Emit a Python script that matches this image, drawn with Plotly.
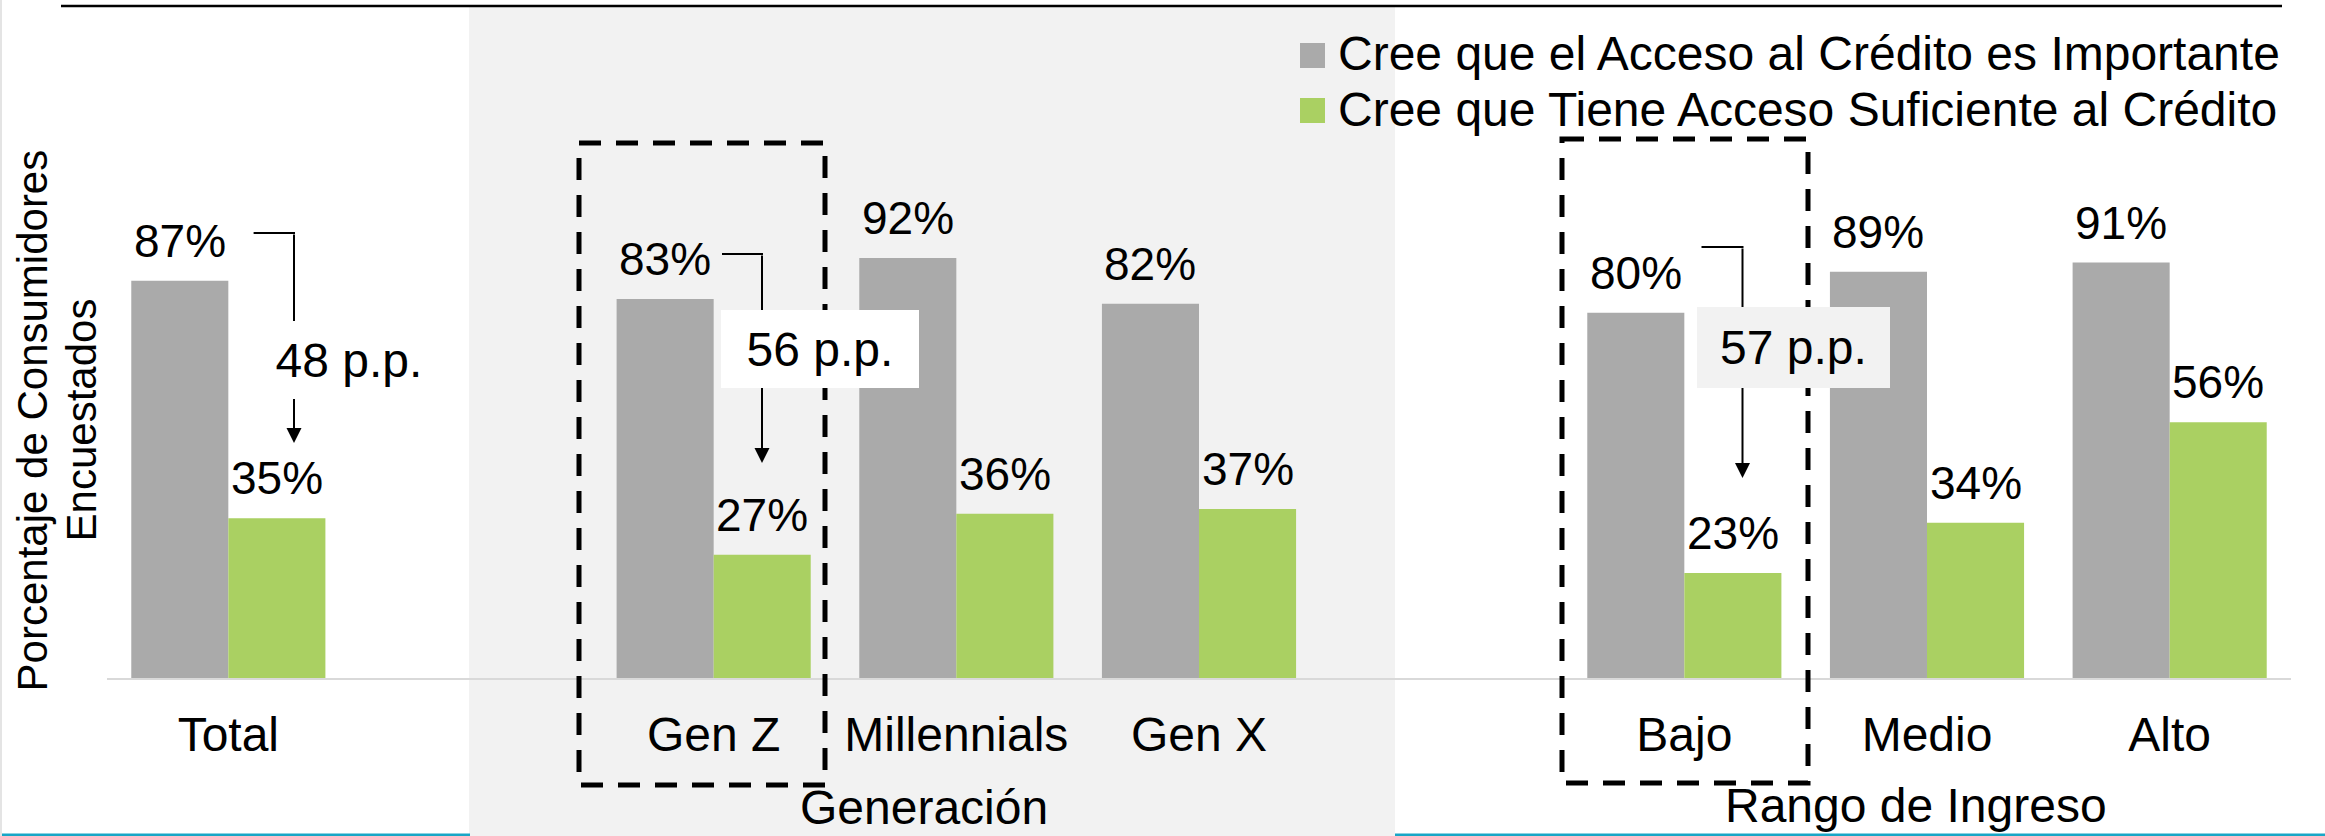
import plotly.graph_objects as go

# ---------------- data ----------------
categories = ["Total", "Gen Z", "Millennials", "Gen X", "Bajo", "Medio", "Alto"]
positions = [0, 2, 3, 4, 6, 7, 8]
importante = [87, 83, 92, 82, 80, 89, 91]
suficiente = [35, 27, 36, 37, 23, 34, 56]
series_names = ["Cree que el Acceso al Crédito es Importante",
                "Cree que Tiene Acceso Suficiente al Crédito"]
group_labels = ["Generación", "Rango de Ingreso"]
gap_labels = ["48 p.p.", "56 p.p.", "57 p.p."]
y_title_lines = ["Porcentaje de Consumidores", "Encuestados"]

# ---------------- style / layout ----------------
W, H = 2325, 836
PL, PR, PT, PB = 107, 34, 6, 158
PW, PH = W - PL - PR, H - PT - PB
PX_PER_PCT = 4.565
YMAX = PH / PX_PER_PCT
BARGAP = 0.2
HALF = (1 - BARGAP) / 4  # centre offset of each bar in a pair

GRAY = "#AAAAAA"
GREEN = "#AAD062"
SHADE = "#F2F2F2"
TEAL = "#18A6C6"
FONT = "Liberation Sans, Arial, sans-serif"
FS = 48


def px(xp):
    return (xp - PL) / PW


def py(yp):
    return (PT + PH - yp) / PH


fig = go.Figure()
fig.add_trace(go.Bar(x=positions, y=importante, name=series_names[0],
                     marker=dict(color=GRAY, line=dict(width=0)), showlegend=False))
fig.add_trace(go.Bar(x=positions, y=suficiente, name=series_names[1],
                     marker=dict(color=GREEN, line=dict(width=0)), showlegend=False))

shapes = []
annotations = []

# shaded "Generación" background
shapes.append(dict(type="rect", xref="paper", yref="paper", layer="below",
                   x0=px(469), x1=px(1395), y0=py(7), y1=py(837),
                   fillcolor=SHADE, line=dict(width=0)))
# bottom teal lines
for a, b in [(0, 470), (1395, W)]:
    shapes.append(dict(type="line", xref="paper", yref="paper", layer="below",
                       x0=px(a), x1=px(b), y0=py(835), y1=py(835),
                       line=dict(color=TEAL, width=3)))
# faint left edge
shapes.append(dict(type="line", xref="paper", yref="paper", layer="below",
                   x0=px(1), x1=px(1), y0=py(0), y1=py(H),
                   line=dict(color="#E4E4E4", width=2)))
# top black rule
shapes.append(dict(type="line", xref="paper", yref="paper",
                   x0=px(61), x1=px(2282), y0=py(6), y1=py(6),
                   line=dict(color="black", width=2.5)))

# legend (manual, to match the large swatches)
leg_colors = [GRAY, GREEN]
leg_rows = [55.5, 110.5]
for name, col, yc in zip(series_names, leg_colors, leg_rows):
    shapes.append(dict(type="rect", xref="paper", yref="paper",
                       x0=px(1300), x1=px(1325), y0=py(yc - 12.5), y1=py(yc + 12.5),
                       fillcolor=col, line=dict(width=0)))
    annotations.append(dict(text=name, xref="paper", yref="paper",
                            x=px(1336), y=py(yc - 1.5), xanchor="left", yanchor="middle",
                            showarrow=False, font=dict(size=FS, color="black", family=FONT)))

# data labels
for p, a, b in zip(positions, importante, suficiente):
    for xv, v in [(p - HALF, a), (p + HALF, b)]:
        annotations.append(dict(text=f"{v}%", x=xv, y=v, xref="x", yref="y",
                                xanchor="center", yanchor="bottom", yshift=12,
                                showarrow=False,
                                font=dict(size=46, color="black", family=FONT)))

# dashed highlight boxes
for (x0, x1, y0, y1) in [(579, 825, 143, 785), (1562, 1808, 139, 783)]:
    shapes.append(dict(type="rect", xref="paper", yref="paper",
                       x0=px(x0), x1=px(x1), y0=py(y0), y1=py(y1),
                       line=dict(color="black", width=5, dash="22px,15px"),
                       fillcolor="rgba(0,0,0,0)"))

# gap brackets: (h_start, v_x, top_y, tip_y, box_cx, box_cy, box_w, box_h, box_bg)
brackets = [
    (253.6, 294, 233, 443, 349, 360, 150, 78, "white"),
    (722, 762, 254, 463, 820, 349, 198, 78, "white"),
    (1701.5, 1742.5, 247, 478, 1793.5, 347.5, 193, 81, SHADE),
]
for label, (hx, vx, ty, tip, cx, cy, bw, bh, bg) in zip(gap_labels, brackets):
    shapes.append(dict(type="line", xref="paper", yref="paper",
                       x0=px(hx), x1=px(vx + 1), y0=py(ty), y1=py(ty),
                       line=dict(color="black", width=2)))
    annotations.append(dict(text="", xref="paper", yref="paper",
                            x=px(vx), y=py(tip), ax=0, ay=-(tip - ty),
                            showarrow=True, arrowhead=2, arrowsize=1.5,
                            arrowwidth=2, arrowcolor="black"))
    annotations.append(dict(text=label, xref="paper", yref="paper",
                            x=px(cx), y=py(cy), xanchor="center", yanchor="middle",
                            width=bw, height=bh, bgcolor=bg, borderpad=0,
                            borderwidth=0, showarrow=False, align="center",
                            font=dict(size=FS, color="black", family=FONT)))

# group labels
for label, (cx, cy) in zip(group_labels, [(924, 807.5), (1916, 805.5)]):
    annotations.append(dict(text=label, xref="paper", yref="paper",
                            x=px(cx), y=py(cy), xanchor="center", yanchor="middle",
                            showarrow=False,
                            font=dict(size=FS, color="black", family=FONT)))

# y-axis title (two rotated lines)
for line, cx in zip(y_title_lines, [32.4, 81.4]):
    annotations.append(dict(text=line, xref="paper", yref="paper",
                            x=px(cx), y=py(420), xanchor="center", yanchor="middle",
                            textangle=-90, showarrow=False,
                            font=dict(size=42, color="black", family=FONT)))

fig.update_layout(
    width=W, height=H,
    margin=dict(l=PL, r=PR, t=PT, b=PB, pad=0),
    paper_bgcolor="white", plot_bgcolor="rgba(0,0,0,0)",
    barmode="group", bargap=BARGAP, bargroupgap=0,
    showlegend=False,
    font=dict(family=FONT, size=FS, color="black"),
    xaxis=dict(range=[-0.5, 8.5], tickvals=positions, ticktext=categories,
               showgrid=False, zeroline=False, showline=True,
               linecolor="#D9D9D9", linewidth=2, ticks="",
               ticklabelstandoff=13,
               tickfont=dict(size=FS, color="black", family=FONT)),
    yaxis=dict(range=[0, YMAX], visible=False, showgrid=False, zeroline=False),
    shapes=shapes, annotations=annotations,
)

fig.write_html("out.html",
               config={"displayModeBar": False},
               post_script="document.body.style.margin='0px';"
                           "document.body.style.overflow='hidden';")
